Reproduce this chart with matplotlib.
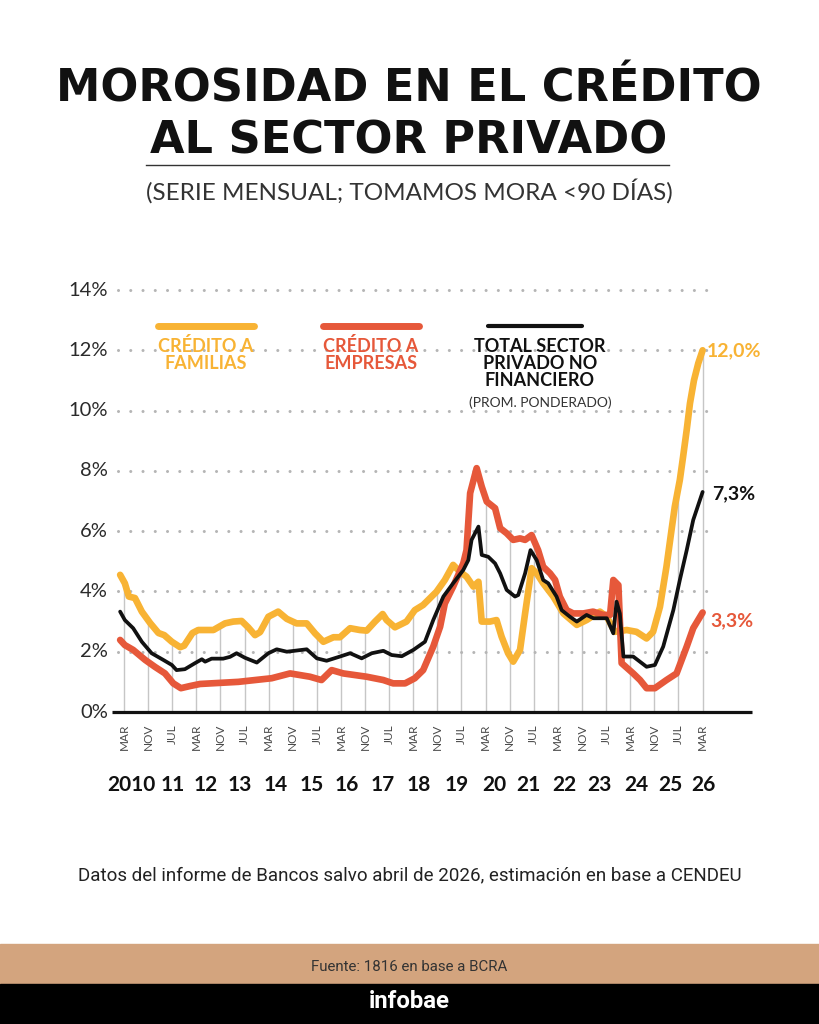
import numpy as np
import matplotlib
matplotlib.use('Agg')
import matplotlib.pyplot as plt
from matplotlib.patches import Rectangle

# Fechas en años decimales, valores en % de mora
fechas_familias = [2010.06, 2010.19, 2010.30, 2010.47, 2010.66, 2010.89, 2011.12, 2011.28, 2011.49, 2011.72,
                   2011.83, 2012.06, 2012.22, 2012.64, 2012.96, 2013.19, 2013.42, 2013.60, 2013.79, 2013.93,
                   2014.16, 2014.43, 2014.67, 2014.94, 2015.22, 2015.45, 2015.68, 2015.96, 2016.14, 2016.42,
                   2016.69, 2016.88, 2017.11, 2017.32, 2017.43, 2017.66, 2017.98, 2018.21, 2018.44, 2018.81,
                   2019.04, 2019.27, 2019.46, 2019.64, 2019.83, 2019.97, 2020.06, 2020.29, 2020.47, 2020.61,
                   2020.79, 2020.93, 2021.12, 2021.26, 2021.44, 2021.58, 2021.76, 2022.04, 2022.32, 2022.69,
                   2022.96, 2023.33, 2023.52, 2023.74, 2024.07, 2024.34, 2024.62, 2024.80, 2024.99, 2025.17,
                   2025.31, 2025.40, 2025.54, 2025.63, 2025.73, 2025.82, 2025.93, 2026.05, 2026.17]
familias = [4.55, 4.27, 3.83, 3.78, 3.33, 2.95, 2.62, 2.55, 2.33, 2.15,
            2.20, 2.62, 2.72, 2.72, 2.94, 3.00, 3.02, 2.81, 2.55, 2.65,
            3.16, 3.33, 3.09, 2.94, 2.94, 2.61, 2.33, 2.48, 2.48, 2.78,
            2.72, 2.70, 3.00, 3.25, 3.05, 2.81, 3.00, 3.38, 3.55, 3.99,
            4.38, 4.88, 4.65, 4.49, 4.16, 4.32, 3.00, 3.00, 3.05, 2.50,
            1.95, 1.67, 2.06, 3.27, 4.77, 4.60, 4.27, 3.83, 3.27, 2.89,
            3.05, 3.33, 3.16, 2.66, 2.72, 2.66, 2.44, 2.66, 3.49, 4.82,
            6.04, 6.81, 7.70, 8.47, 9.36, 10.24, 11.00, 11.57, 12.0]

fechas_empresas = [2010.06, 2010.19, 2010.42, 2010.75, 2011.02, 2011.30, 2011.53, 2011.74, 2011.99, 2012.27,
                   2013.33, 2014.25, 2014.76, 2015.31, 2015.63, 2015.91, 2016.23, 2016.88, 2017.34, 2017.61,
                   2017.94, 2018.21, 2018.44, 2018.72, 2018.91, 2019.04, 2019.27, 2019.55, 2019.64, 2019.74,
                   2019.92, 2020.06, 2020.20, 2020.43, 2020.57, 2020.75, 2020.93, 2021.12, 2021.26, 2021.44,
                   2021.62, 2021.76, 2021.95, 2022.09, 2022.22, 2022.41, 2022.59, 2022.87, 2023.14, 2023.42,
                   2023.61, 2023.70, 2023.84, 2023.93, 2024.25, 2024.44, 2024.62, 2024.85, 2025.17, 2025.45,
                   2025.73, 2025.91, 2026.17]
empresas = [2.39, 2.22, 2.06, 1.73, 1.50, 1.28, 0.95, 0.79, 0.86, 0.93,
            1.00, 1.12, 1.28, 1.17, 1.06, 1.39, 1.28, 1.17, 1.06, 0.95,
            0.95, 1.12, 1.39, 2.17, 2.83, 3.60, 4.16, 4.93, 5.37, 7.26,
            8.09, 7.48, 6.98, 6.76, 6.10, 5.93, 5.71, 5.76, 5.71, 5.87,
            5.37, 4.82, 4.60, 4.38, 3.83, 3.38, 3.27, 3.27, 3.33, 3.22,
            3.22, 4.38, 4.21, 1.62, 1.28, 1.06, 0.79, 0.79, 1.06, 1.28,
            2.17, 2.78, 3.3]

fechas_total = [2010.06, 2010.19, 2010.42, 2010.66, 2010.93, 2011.25, 2011.49, 2011.62, 2011.85, 2012.13,
                2012.32, 2012.41, 2012.59, 2012.91, 2013.10, 2013.28, 2013.51, 2013.84, 2014.16, 2014.39,
                2014.67, 2015.22, 2015.50, 2015.77, 2016.14, 2016.42, 2016.74, 2017.02, 2017.34, 2017.57,
                2017.85, 2018.17, 2018.49, 2018.72, 2019.00, 2019.27, 2019.55, 2019.69, 2019.78, 2019.97,
                2020.06, 2020.24, 2020.43, 2020.57, 2020.75, 2020.98, 2021.07, 2021.26, 2021.41, 2021.58,
                2021.76, 2021.90, 2022.13, 2022.27, 2022.50, 2022.69, 2022.96, 2023.15, 2023.52, 2023.70,
                2023.79, 2023.88, 2023.98, 2024.25, 2024.62, 2024.85, 2025.08, 2025.36, 2025.54, 2025.73,
                2025.91, 2026.17]
total = [3.33, 3.05, 2.78, 2.33, 1.95, 1.73, 1.56, 1.39, 1.42, 1.62,
         1.75, 1.67, 1.77, 1.77, 1.83, 1.95, 1.80, 1.64, 1.95, 2.08,
         2.00, 2.08, 1.78, 1.70, 1.84, 1.95, 1.78, 1.95, 2.03, 1.89,
         1.85, 2.06, 2.33, 3.05, 3.83, 4.27, 4.71, 5.04, 5.71, 6.15,
         5.21, 5.15, 4.93, 4.60, 4.05, 3.83, 3.88, 4.60, 5.37, 5.04,
         4.38, 4.27, 3.83, 3.38, 3.16, 3.00, 3.22, 3.11, 3.11, 2.61,
         3.66, 3.27, 1.84, 1.84, 1.50, 1.56, 2.17, 3.38, 4.38, 5.37,
         6.37, 7.3]

# Eje x: un tick cada 8 meses desde marzo 2010
meses_ticks = ['MAR', 'NOV', 'JUL'] * 8 + ['MAR']
fechas_ticks = [2010 + 2 / 12 + 8 / 12 * i for i in range(25)]
anios = ['2010', '11', '12', '13', '14', '15', '16', '17', '18', '19', '20', '21', '22', '23', '24', '25', '26']
pos_anios = [2010.38, 2011.52, 2012.44, 2013.37, 2014.36, 2015.35, 2016.33, 2017.33, 2018.33,
             2019.38, 2020.40, 2021.34, 2022.36, 2023.33, 2024.33, 2025.29, 2026.20]
y_ticks = [0, 2, 4, 6, 8, 10, 12, 14]

AMARILLO = '#f8b334'
ROJO = '#e6583a'
NEGRO = '#111111'
GRIS = '#333333'
LATO = ['Lato', 'DejaVu Sans']
ROBOTO = ['Roboto', 'DejaVu Sans']

W, H = 819, 1024
fig = plt.figure(figsize=(W / 100, H / 100), dpi=100)
fig.patch.set_facecolor('white')
ax = fig.add_axes([0, 0, 1, 1])
ax.axis('off')

# escala: marzo 2010 -> px 124, marzo 2026 -> px 702.5 ; 0% -> px 712, 14% -> px 290
px_anio = (702.5 - 124) / 16
x0 = fechas_ticks[0] - 124 / px_anio
px_pct = (712 - 290) / 14
ax.set_xlim(x0, x0 + W / px_anio)
ax.set_ylim((712 - H) / px_pct, 712 / px_pct)


def px2x(px):
    return x0 + px / px_anio


def px2y(py):
    return (712 - py) / px_pct


def fy(py):
    return 1 - py / H


# lineas verticales hasta la serie mas alta
for f in fechas_ticks:
    tope = max(np.interp(f, fechas_familias, familias),
               np.interp(f, fechas_empresas, empresas),
               np.interp(f, fechas_total, total))
    ax.plot([f, f], [0, tope], color='#c6c6c6', lw=1, zorder=1)

# grilla horizontal punteada
for v in y_ticks[1:]:
    ax.plot([px2x(118), px2x(708)], [v, v], color='#b5b5b5', lw=2.2,
            linestyle=(0, (0.01, 4.0)), dash_capstyle='round', zorder=1)
for v in y_ticks:
    ax.text(px2x(108), v, f'{v}%', ha='right', va='center', fontsize=14.5,
            family=LATO, color='#2a2a2a')

# eje 0%
ax.plot([px2x(112), px2x(752)], [0, 0], color=NEGRO, lw=2.3, solid_capstyle='butt', zorder=3)

for f, m in zip(fechas_ticks, meses_ticks):
    ax.text(f, px2y(724), m, rotation=90, ha='center', va='top', fontsize=8.5,
            family=LATO, color='#4a4a4a')
for p, a in zip(pos_anios, anios):
    ax.text(p, px2y(785), a, ha='center', va='center', fontsize=15,
            fontweight='bold', family=LATO, color=NEGRO)

# series
ax.plot(fechas_familias, familias, color=AMARILLO, lw=4.8, solid_joinstyle='round',
        solid_capstyle='round', zorder=4)
ax.plot(fechas_empresas, empresas, color=ROJO, lw=4.8, solid_joinstyle='round',
        solid_capstyle='round', zorder=5)
ax.plot(fechas_total, total, color=NEGRO, lw=2.7, solid_joinstyle='round',
        solid_capstyle='round', zorder=6)

# etiquetas finales
for fechas, serie, color, off in [(fechas_familias, familias, AMARILLO, (3, 0)),
                                  (fechas_total, total, NEGRO, (7, -1.5)),
                                  (fechas_empresas, empresas, ROJO, (5.5, -6))]:
    ax.annotate(f'{serie[-1]:.1f}%'.replace('.', ','), xy=(fechas[-1], serie[-1]),
                xytext=off, textcoords='offset points', ha='left', va='center',
                fontsize=14, fontweight='bold', family=LATO, color=color)

# leyenda
ax.plot([px2x(158), px2x(254)], [px2y(326)] * 2, color=AMARILLO, lw=5, solid_capstyle='round')
ax.plot([px2x(323), px2x(419)], [px2y(326)] * 2, color=ROJO, lw=5, solid_capstyle='round')
ax.plot([px2x(488), px2x(582)], [px2y(326)] * 2, color=NEGRO, lw=3, solid_capstyle='round')
ax.text(px2x(206), px2y(354.5), 'CRÉDITO A\nFAMILIAS', ha='center', va='center',
        ma='center', fontsize=13, fontweight='bold', family=LATO, color=AMARILLO,
        linespacing=1.05)
ax.text(px2x(371), px2y(354.5), 'CRÉDITO A\nEMPRESAS', ha='center', va='center',
        ma='center', fontsize=13, fontweight='bold', family=LATO, color=ROJO,
        linespacing=1.05)
ax.text(px2x(540), px2y(363.5), 'TOTAL SECTOR\nPRIVADO NO\nFINANCIERO', ha='center',
        va='center', ma='center', fontsize=13, fontweight='bold', family=LATO,
        color=NEGRO, linespacing=1.02)
ax.text(px2x(540), px2y(403), '(PROM. PONDERADO)', ha='center', va='center',
        fontsize=10, family=LATO, color=GRIS)

# titulo
t1 = fig.text(0.499, fy(101.7), 'MOROSIDAD EN EL CRÉDITO', ha='center', va='baseline',
              fontsize=32, fontweight='bold', color=NEGRO)
t2 = fig.text(0.499, fy(154), 'AL SECTOR PRIVADO', ha='center', va='baseline',
              fontsize=32, fontweight='bold', color=NEGRO)
fig.add_artist(plt.Line2D([146 / W, 669 / W], [fy(165)] * 2, color=GRIS, lw=1))
t3 = fig.text(0.5, fy(200), '(SERIE MENSUAL; TOMAMOS MORA <90 DÍAS)', ha='center',
              va='baseline', fontsize=17, family=LATO, color=GRIS)

t4 = fig.text(0.5, fy(875), 'Datos del informe de Bancos salvo abril de 2026, estimación en base a CENDEU',
              ha='center', va='center', fontsize=12, family=ROBOTO, color='#222222')

# pie
fig.add_artist(Rectangle((0, fy(984)), 1, (984 - 944) / H, transform=fig.transFigure,
                         color='#d3a47e', zorder=0))
fig.add_artist(Rectangle((0, 0), 1, (H - 984) / H, transform=fig.transFigure,
                         color='black', zorder=0))
t5 = fig.text(0.5, fy(967), 'Fuente: 1816 en base a BCRA', ha='center', va='center',
              fontsize=10.5, family=ROBOTO, color=GRIS)
t6 = fig.text(0.5, fy(1002), 'infobae', ha='center', va='center', fontsize=16,
              fontweight='bold', family=ROBOTO, color='white')

# ajustar anchos de los textos principales
fig.canvas.draw()
r = fig.canvas.get_renderer()
escala = 707 / t1.get_window_extent(r).width
t1.set_fontsize(t1.get_fontsize() * escala)
t2.set_fontsize(t2.get_fontsize() * escala)
for t, ancho in [(t3, 526), (t4, 663), (t5, 197), (t6, 82)]:
    t.set_fontsize(t.get_fontsize() * ancho / t.get_window_extent(r).width)

fig.savefig('out.png', dpi=100)
